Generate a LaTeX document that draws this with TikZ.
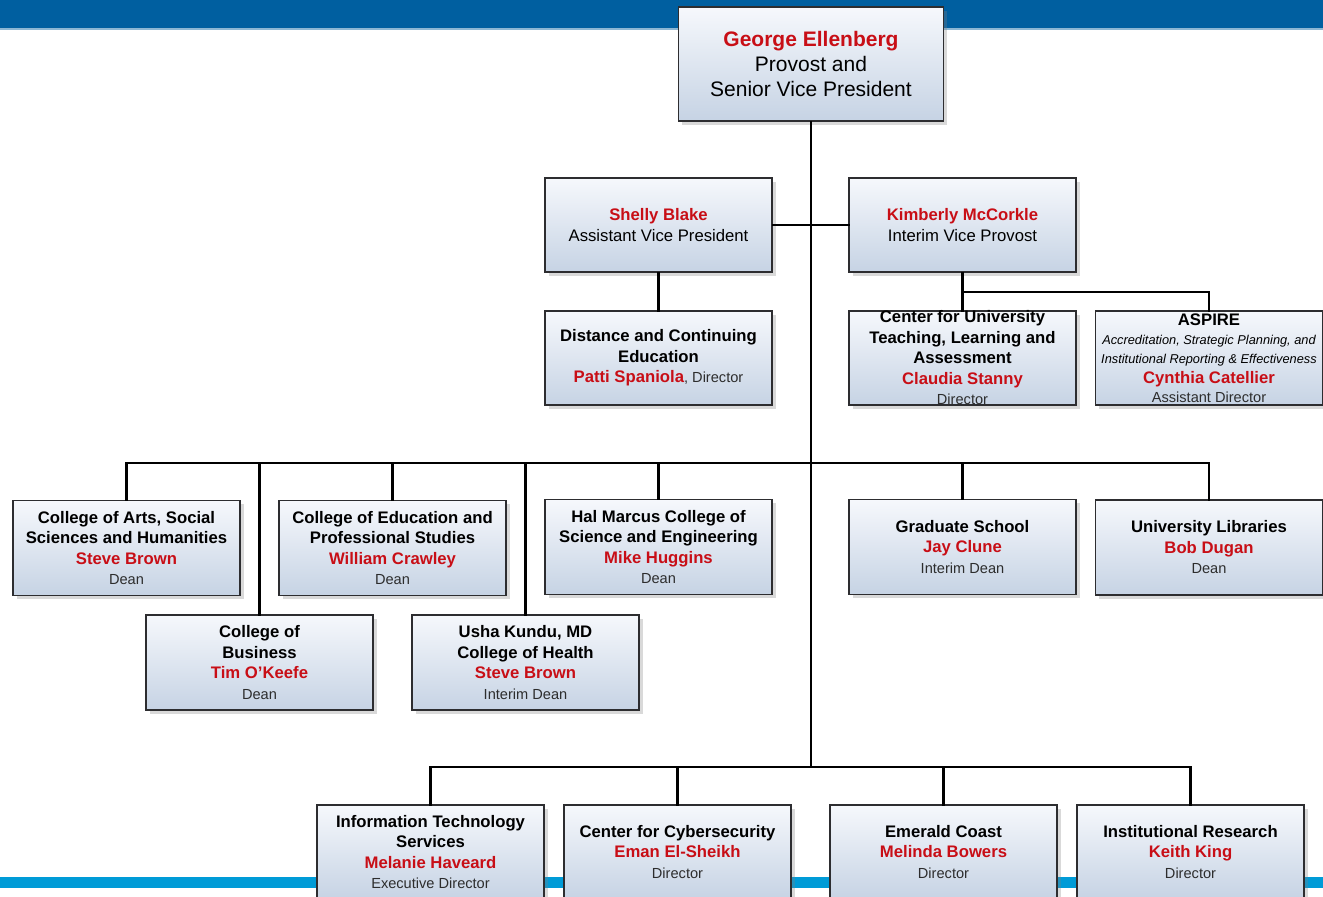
\documentclass[tikz,border=0pt]{standalone}
\usepackage{fontspec}
\setmainfont{Liberation Sans}
\usetikzlibrary{shadows}
\definecolor{namered}{RGB}{200,14,22}
\definecolor{titlegray}{RGB}{45,45,45}
\definecolor{boxline}{RGB}{45,45,48}
\definecolor{boxtop}{RGB}{246,248,252}
\definecolor{boxbot}{RGB}{198,211,228}
\definecolor{topbar}{RGB}{0,95,160}
\definecolor{botbar}{RGB}{0,155,215}
\newcommand\pname[1]{{\color{namered}\bfseries #1}}
\newcommand\ptitle[1]{{\mdseries\fontsize{14.6}{\baselineskip}\selectfont\color{titlegray}#1}}

\begin{document}
\begin{tikzpicture}[x=1pt,y=-1pt,
    unit/.style={draw=boxline,line width=1.5pt,top color=boxtop,bottom color=boxbot,
      minimum width=227pt,minimum height=95pt,inner sep=0pt,align=center,
      font=\bfseries\fontsize{16.7}{20.5}\selectfont,
      drop shadow={shadow xshift=3.5pt,shadow yshift=-3.5pt,opacity=.3}},
    link/.style={line width=2.5pt,line cap=rect}
  ]
    \useasboundingbox (0,0) rectangle (1323,897);
    % bands
    \fill[topbar] (0,0) rectangle (1323,28);
    \fill[topbar!45] (0,28) rectangle (1323,29.5);
    \fill[botbar] (0,877) rectangle (1323,888);

    % provost and vice provosts
    \node[unit,minimum width=265pt,minimum height=114pt,
        font=\fontsize{21}{25}\selectfont] (george) at (811,64)
        {\pname{George Ellenberg}\\Provost and\\Senior Vice President};
    \node[unit,minimum height=94pt,font=\fontsize{16.7}{20.5}\selectfont] (shelly) at (658.5,225)
        {\pname{Shelly Blake}\\Assistant Vice President};
    \node[unit,minimum height=94pt,font=\fontsize{16.7}{20.5}\selectfont] (kim) at (962.5,225)
        {\pname{Kimberly McCorkle}\\Interim Vice Provost};
    \node[unit,minimum height=94pt] (dce) at (658.5,358)
        {Distance and Continuing\\Education\\\pname{Patti Spaniola}\ptitle{, Director}};
    \node[unit,minimum height=94pt,inner ysep=-5pt] (cutla) at (962.5,358)
        {Center for University\\Teaching, Learning and\\Assessment\\\pname{Claudia Stanny}\\\ptitle{Director}};
    \node[unit,minimum height=94pt,inner ysep=-2pt,font=\bfseries\fontsize{16.7}{19.3}\selectfont] (aspire) at (1209,358)
        {ASPIRE\\{\mdseries\itshape\fontsize{12.8}{\baselineskip}\selectfont Accreditation, Strategic Planning, and}\\
         {\mdseries\itshape\fontsize{12.8}{\baselineskip}\selectfont Institutional Reporting \& Effectiveness}\\
         \pname{Cynthia Catellier}\\\ptitle{Assistant Director}};

    % colleges
    \node[unit] (cassh) at (126.5,548)
        {College of Arts, Social\\Sciences and Humanities\\\pname{Steve Brown}\\\ptitle{Dean}};
    \node[unit] (ceps) at (392.5,548)
        {College of Education and\\Professional Studies\\\pname{William Crawley}\\\ptitle{Dean}};
    \node[unit] (hmc) at (658.5,547)
        {Hal Marcus College of\\Science and Engineering\\\pname{Mike Huggins}\\\ptitle{Dean}};
    \node[unit] (grad) at (962.5,547)
        {Graduate School\\\pname{Jay Clune}\\\ptitle{Interim Dean}};
    \node[unit] (libs) at (1209,547.5)
        {University Libraries\\\pname{Bob Dugan}\\\ptitle{Dean}};
    \node[unit] (cob) at (259.5,662.5)
        {College of\\Business\\\pname{Tim O'Keefe}\\\ptitle{Dean}};
    \node[unit] (coh) at (525.5,662.5)
        {Usha Kundu, MD\\College of Health\\\pname{Steve Brown}\\\ptitle{Interim Dean}};

    % centers and services
    \node[unit,minimum height=94pt] (its) at (430.5,852)
        {Information Technology\\Services\\\pname{Melanie Haveard}\\\ptitle{Executive Director}};
    \node[unit,minimum height=94pt] (cyber) at (677.5,852)
        {Center for Cybersecurity\\\pname{Eman El-Sheikh}\\\ptitle{Director}};
    \node[unit,minimum height=94pt] (ecoast) at (943.5,852)
        {Emerald Coast\\\pname{Melinda Bowers}\\\ptitle{Director}};
    \node[unit,minimum height=94pt] (ir) at (1190.5,852)
        {Institutional Research\\\pname{Keith King}\\\ptitle{Director}};

    % lines
    \coordinate (kfork) at (962.5,292);
    \coordinate (rowbus) at (811,463);
    \coordinate (botbus) at (811,767);
    \draw[link] (george.south) -- (botbus);
    \draw[link] (shelly.east) -- (kim.west);
    \draw[link] (shelly.south) -- (dce.north);
    \draw[link] (kim.south) -- (cutla.north);
    \draw[link] (kfork) -| (aspire.north);
    \draw[link] (cassh.north |- rowbus) -- (libs.north |- rowbus);
    \foreach \u in {cassh,cob,ceps,coh,hmc,grad,libs}
        \draw[link] (\u.north) -- (\u.north |- rowbus);
    \draw[link] (its.north |- botbus) -- (ir.north |- botbus);
    \foreach \u in {its,cyber,ecoast,ir}
        \draw[link] (\u.north) -- (\u.north |- botbus);
\end{tikzpicture}
\end{document}
